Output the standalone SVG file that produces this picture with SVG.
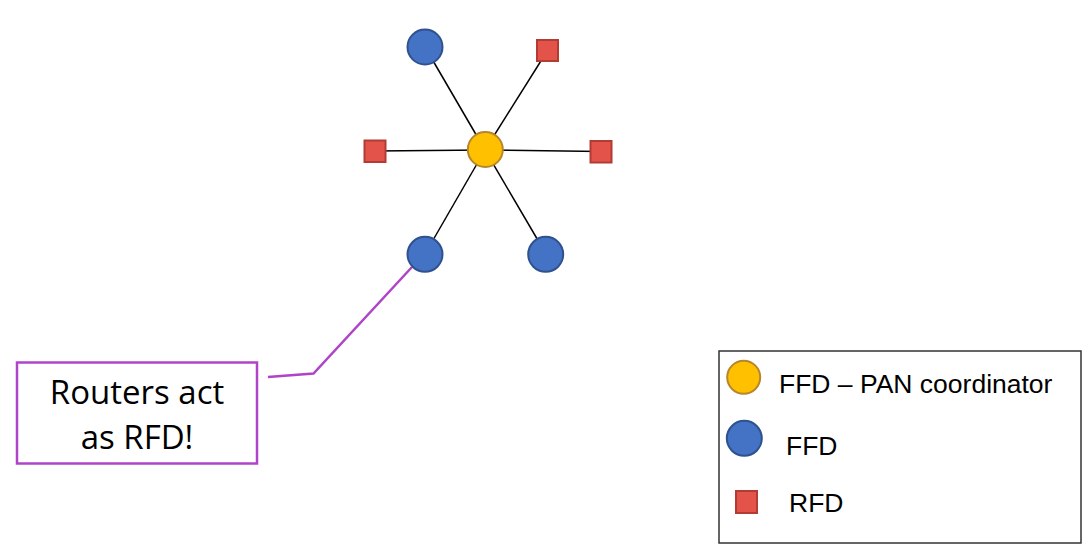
<svg xmlns="http://www.w3.org/2000/svg" width="1088" height="554" viewBox="0 0 1088 554">
<style>
.ffd{fill:#4472C4;stroke:#2F528F;stroke-width:2}
.coord{fill:#FFC000;stroke:#B8862A;stroke-width:2}
.rfd{fill:#E3534A;stroke:#B23C34;stroke-width:2}
.link{stroke:#000;stroke-width:1.5;fill:none}
.callout{stroke:#B044C8;stroke-width:2.5;fill:none}
.lbl{font-family:"Liberation Sans",Arial,sans-serif;font-size:26.5px;fill:#000}
.note{font-family:"Open Sans","Liberation Sans",sans-serif;font-size:33px;fill:#000;text-anchor:middle}
</style>
<rect width="1088" height="554" fill="#fff"/>
<g id="connectors">
<line class="link" x1="485" y1="150" x2="425" y2="47"/>
<line class="link" x1="485" y1="150" x2="547.5" y2="50.5"/>
<line class="link" x1="485" y1="150" x2="375" y2="151"/>
<line class="link" x1="485" y1="150" x2="601" y2="151.5"/>
<line class="link" x1="485" y1="150" x2="425" y2="254"/>
<line class="link" x1="485" y1="150" x2="546" y2="254"/>
<polyline class="callout" points="268,377 313.5,373.5 412,267"/>
</g>
<g id="ffd-top-left"><circle class="ffd" cx="425" cy="47" r="17.5"/></g>
<g id="rfd-top-right"><rect class="rfd" x="537" y="40" width="21" height="21"/></g>
<g id="rfd-left"><rect class="rfd" x="364.5" y="140.5" width="21" height="21.5"/></g>
<g id="rfd-right"><rect class="rfd" x="590.5" y="141" width="21" height="21.5"/></g>
<g id="coordinator"><circle class="coord" cx="485.3" cy="149.5" r="17.5"/></g>
<g id="ffd-bottom-left"><circle class="ffd" cx="425" cy="254.3" r="17.5"/></g>
<g id="ffd-bottom-right"><circle class="ffd" cx="545.7" cy="254.3" r="17.5"/></g>
<g id="note">
<rect x="17" y="362.5" width="240" height="101" fill="#fff" stroke="#B044C8" stroke-width="2.5"/>
<text class="note" x="137" y="404">Routers act</text>
<text class="note" x="137" y="449">as RFD!</text>
</g>
<g id="legend">
<rect x="719" y="351" width="362" height="192" fill="#fff" stroke="#333" stroke-width="1.5"/>
<circle class="coord" cx="743.7" cy="377.3" r="16.5"/>
<text class="lbl" x="779" y="393">FFD – PAN coordinator</text>
<circle class="ffd" cx="744.3" cy="438.3" r="17.5"/>
<text class="lbl" x="786" y="455">FFD</text>
<rect class="rfd" x="736" y="491" width="21" height="22"/>
<text class="lbl" x="789" y="511.5">RFD</text>
</g>
</svg>
